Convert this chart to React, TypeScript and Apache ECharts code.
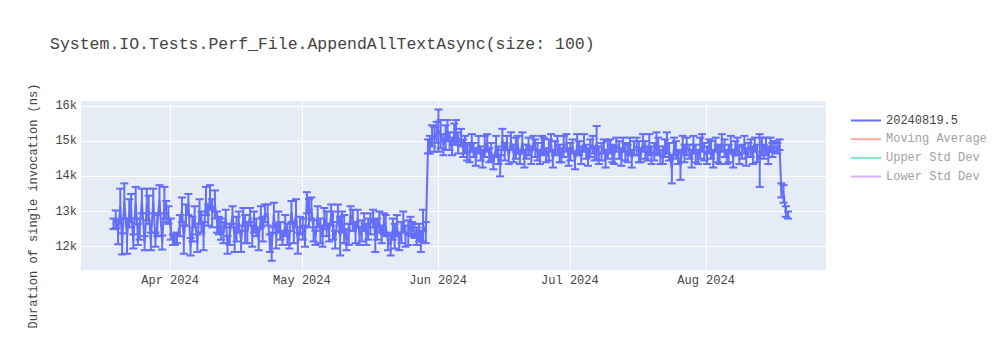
import React, { useEffect, useRef } from "react";
import * as echarts from "echarts";

const titleText = "System.IO.Tests.Perf_File.AppendAllTextAsync(size: 100)";
const yAxisTitle = "Duration of single invocation (ns)";
const legendNames = ["20240819.5", "Moving Average", "Upper Std Dev", "Lower Std Dev"];
const legendColors = ["#636efa", "#f7aa9d", "#80e6cb", "#d5b1fd"];
const legendTextColors = ["#444444", "#a2a2a2", "#a2a2a2", "#a2a2a2"];
const monthNames = ["Jan", "Feb", "Mar", "Apr", "May", "Jun", "Jul", "Aug", "Sep", "Oct", "Nov", "Dec"];
const xRange = ["2024-03-11 12", "2024-08-28 07"];
const yRange = [11338, 16170];

const dates = [
  "2024-03-19 03","2024-03-19 15","2024-03-20 04","2024-03-20 16","2024-03-21 02","2024-03-21 14","2024-03-22 05","2024-03-22 17",
  "2024-03-23 03","2024-03-23 15","2024-03-24 04","2024-03-24 16","2024-03-25 02","2024-03-25 14","2024-03-26 05","2024-03-26 17",
  "2024-03-27 03","2024-03-27 15","2024-03-28 04","2024-03-28 16","2024-03-29 02","2024-03-29 14","2024-03-30 05","2024-03-30 17",
  "2024-03-31 03","2024-03-31 15","2024-04-01 04","2024-04-01 16","2024-04-02 02","2024-04-02 14","2024-04-03 05","2024-04-03 17",
  "2024-04-04 03","2024-04-04 15","2024-04-05 04","2024-04-05 16","2024-04-06 02","2024-04-06 14","2024-04-07 05","2024-04-07 17",
  "2024-04-08 03","2024-04-08 15","2024-04-09 04","2024-04-09 16","2024-04-10 02","2024-04-10 14","2024-04-11 05","2024-04-11 17",
  "2024-04-12 03","2024-04-12 15","2024-04-13 04","2024-04-13 16","2024-04-14 02","2024-04-14 14","2024-04-15 05","2024-04-15 17",
  "2024-04-16 03","2024-04-16 15","2024-04-17 04","2024-04-17 16","2024-04-18 02","2024-04-18 14","2024-04-19 05","2024-04-19 17",
  "2024-04-20 03","2024-04-20 15","2024-04-21 04","2024-04-21 16","2024-04-22 02","2024-04-22 14","2024-04-23 05","2024-04-23 17",
  "2024-04-24 03","2024-04-24 15","2024-04-25 04","2024-04-25 16","2024-04-26 02","2024-04-26 14","2024-04-27 05","2024-04-27 17",
  "2024-04-28 03","2024-04-28 15","2024-04-29 04","2024-04-29 16","2024-04-30 02","2024-04-30 14","2024-05-01 05","2024-05-01 17",
  "2024-05-02 03","2024-05-02 15","2024-05-03 04","2024-05-03 16","2024-05-04 02","2024-05-04 14","2024-05-05 05","2024-05-05 17",
  "2024-05-06 03","2024-05-06 15","2024-05-07 04","2024-05-07 16","2024-05-08 02","2024-05-08 14","2024-05-09 05","2024-05-09 17",
  "2024-05-10 03","2024-05-10 15","2024-05-11 04","2024-05-11 16","2024-05-12 02","2024-05-12 14","2024-05-13 05","2024-05-13 17",
  "2024-05-14 03","2024-05-14 15","2024-05-15 04","2024-05-15 16","2024-05-16 02","2024-05-16 14","2024-05-17 05","2024-05-17 17",
  "2024-05-18 03","2024-05-18 15","2024-05-19 04","2024-05-19 16","2024-05-20 02","2024-05-20 14","2024-05-21 05","2024-05-21 17",
  "2024-05-22 03","2024-05-22 15","2024-05-23 04","2024-05-23 16","2024-05-24 02","2024-05-24 14","2024-05-25 05","2024-05-25 17",
  "2024-05-26 03","2024-05-26 15","2024-05-27 04","2024-05-27 16","2024-05-28 02","2024-05-28 14","2024-05-29 05","2024-05-29 17",
  "2024-05-30 03","2024-05-30 15","2024-05-31 04","2024-05-31 16","2024-06-01 02","2024-06-01 14","2024-06-02 05","2024-06-02 17",
  "2024-06-03 03","2024-06-03 15","2024-06-04 04","2024-06-04 16","2024-06-05 02","2024-06-05 14","2024-06-06 05","2024-06-06 17",
  "2024-06-07 03","2024-06-07 15","2024-06-08 04","2024-06-08 16","2024-06-09 02","2024-06-09 14","2024-06-10 05","2024-06-10 17",
  "2024-06-11 03","2024-06-11 15","2024-06-12 04","2024-06-12 16","2024-06-13 02","2024-06-13 14","2024-06-14 05","2024-06-14 17",
  "2024-06-15 03","2024-06-15 15","2024-06-16 04","2024-06-16 16","2024-06-17 02","2024-06-17 14","2024-06-18 05","2024-06-18 17",
  "2024-06-19 03","2024-06-19 15","2024-06-20 04","2024-06-20 16","2024-06-21 02","2024-06-21 14","2024-06-22 05","2024-06-22 17",
  "2024-06-23 03","2024-06-23 15","2024-06-24 04","2024-06-24 16","2024-06-25 02","2024-06-25 14","2024-06-26 05","2024-06-26 17",
  "2024-06-27 03","2024-06-27 15","2024-06-28 04","2024-06-28 16","2024-06-29 02","2024-06-29 14","2024-06-30 05","2024-06-30 17",
  "2024-07-01 03","2024-07-01 15","2024-07-02 04","2024-07-02 16","2024-07-03 02","2024-07-03 14","2024-07-04 05","2024-07-04 17",
  "2024-07-05 03","2024-07-05 15","2024-07-06 04","2024-07-06 16","2024-07-07 02","2024-07-07 14","2024-07-08 05","2024-07-08 17",
  "2024-07-09 03","2024-07-09 15","2024-07-10 04","2024-07-10 16","2024-07-11 02","2024-07-11 14","2024-07-12 05","2024-07-12 17",
  "2024-07-13 03","2024-07-13 15","2024-07-14 04","2024-07-14 16","2024-07-15 02","2024-07-15 14","2024-07-16 05","2024-07-16 17",
  "2024-07-17 03","2024-07-17 15","2024-07-18 04","2024-07-18 16","2024-07-19 02","2024-07-19 14","2024-07-20 05","2024-07-20 17",
  "2024-07-21 03","2024-07-21 15","2024-07-22 04","2024-07-22 16","2024-07-23 02","2024-07-23 14","2024-07-24 05","2024-07-24 17",
  "2024-07-25 03","2024-07-25 15","2024-07-26 04","2024-07-26 16","2024-07-27 02","2024-07-27 14","2024-07-28 05","2024-07-28 17",
  "2024-07-29 03","2024-07-29 15","2024-07-30 04","2024-07-30 16","2024-07-31 02","2024-07-31 14","2024-08-01 05","2024-08-01 17",
  "2024-08-02 03","2024-08-02 15","2024-08-03 04","2024-08-03 16","2024-08-04 02","2024-08-04 14","2024-08-05 05","2024-08-05 17",
  "2024-08-06 03","2024-08-06 15","2024-08-07 04","2024-08-07 16","2024-08-08 02","2024-08-08 14","2024-08-09 05","2024-08-09 17",
  "2024-08-10 03","2024-08-10 15","2024-08-11 04","2024-08-11 16","2024-08-12 02","2024-08-12 14","2024-08-13 05","2024-08-13 17",
  "2024-08-14 03","2024-08-14 15","2024-08-15 04","2024-08-15 16","2024-08-16 02","2024-08-16 14","2024-08-17 05","2024-08-17 17",
  "2024-08-18 03","2024-08-18 15","2024-08-19 04","2024-08-19 16",
];

const durations = [
  12650,12780,12420,13150,12080,13300,12300,12950, 13100,12150,13250,12350,12500,13300,12100,13200,
  13050,12150,13300,12200,12600,13350,12120,13250, 13000,12900,12500,12200,12200,12250,12600,13050,
  12200,12900,13200,12000,12500,12850,12100,13000, 12700,12300,13300,12900,13400,12950,13200,12700,
  12600,12500,12400,12800,12050,12350,12900,12200, 12500,12700,12150,12850,12500,12400,12900,12300,
  12700,12550,12200,12850,12500,12950,12900,12100, 12000,12900,12300,12700,12450,12250,12600,12350,
  12200,13000,12400,12950,12100,12600,12500,12300, 13250,12950,13100,12450,12250,12850,12450,12300,
  12800,12650,12400,12900,12600,12200,12950,12300, 12700,12500,12200,12350,12900,12750,12400,12800,
  12300,12450,12700,12350,12500,12650,12800,12300, 12500,12700,12350,12650,12600,12150,12050,12500,
  12300,12600,12150,12400,12700,12300,12400,12600, 12500,12450,12300,12400,12150,12600,12400,14850,
  14900,15150,15050,15250,15300,15200,14900,15100, 15300,15000,14850,15200,15250,14950,15100,14800,
  14900,14700,14650,14950,14750,14550,14900,14650, 14500,14850,14950,14600,14700,14400,14850,14600,
  14300,15050,14700,14950,14550,15000,14650,14800, 14900,14550,14950,14500,14700,14850,14600,14950,
  14800,14700,14550,14900,14850,14600,14750,14950, 14500,14800,14900,14650,14600,14850,14950,14550,
  14700,14850,14450,14900,14800,14600,14950,14700, 14550,14800,14900,14650,14950,14600,14700,14850,
  14500,14750,14850,14650,14600,14900,14750,14550, 14900,14700,14650,14850,14500,14800,14850,14700,
  14600,14950,14750,14650,14900,14600,14700,14950, 14850,14550,14600,14800,14950,14700,14200,14850,
  14750,14550,14300,14900,14650,14850,14700,14500, 14900,14650,14550,14800,14950,14700,14600,14850,
  14750,14500,14900,14650,14600,14950,14800,14550, 14650,14900,14500,14800,14850,14600,14700,14900,
  14550,14750,14800,14600,14900,14650,14450,14850, 14700,14850,14600,14900,14750,14850,14800,14900,
  13600,13500,13000,12900,
];

const stdDevs = [
  150,250,350,500,300,500,500,400, 400,200,450,300,300,350,200,450,
  400,250,350,200,300,400,200,450, 300,250,300,150,150,150,300,350,
  400,300,300,250,350,300,250,350, 300,400,400,300,350,400,400,300,
  250,300,300,250,250,300,250,350, 350,300,300,250,400,300,200,300,
  300,250,300,300,350,250,300,250, 400,350,350,300,250,200,300,300,
  250,300,300,400,300,250,300,300, 300,400,300,300,200,300,350,300,
  300,350,250,300,400,250,250,550, 300,400,300,300,250,300,300,250,
  250,300,250,300,300,300,250,450, 300,300,250,300,300,250,300,300,
  350,300,250,300,300,300,350,250, 200,200,250,250,300,450,300,200,
  250,300,350,300,600,400,300,350, 300,250,250,300,350,300,250,250,
  250,250,250,250,200,250,250,200, 250,300,250,200,250,200,300,250,
  300,300,250,200,200,250,250,300, 250,200,300,250,200,250,250,200,
  250,250,200,250,250,200,300,250, 250,200,250,250,200,300,250,250,
  250,200,250,300,200,250,250,200, 250,250,250,200,480,250,250,200,
  250,250,200,250,250,200,250,250, 200,250,250,250,250,200,250,300,
  200,250,250,200,300,250,250,300, 250,200,250,250,300,250,400,250,
  250,200,400,250,250,250,200,250, 250,250,200,300,250,250,250,200,
  250,250,200,250,250,250,250,200, 250,250,250,200,250,250,200,250,
  250,200,250,250,200,250,750,250, 200,250,250,200,200,150,150,150,
  200,250,150,100,
];

function parseTime(s: string): number {
  const [d, h] = s.split(" ");
  const [y, m, day] = d.split("-").map(Number);
  return new Date(y, m - 1, day, Number(h)).getTime();
}

const FONT = "'Liberation Mono', 'Courier New', monospace";

export default function App() {
  const ref = useRef<HTMLDivElement>(null);

  useEffect(() => {
    if (!ref.current) return;
    const chart = echarts.init(ref.current, null, { renderer: "svg" });
    const times = dates.map(parseTime);
    const lineData = times.map((t, i) => [t, durations[i]]);
    const errData = times.map((t, i) => [t, durations[i] - stdDevs[i], durations[i] + stdDevs[i]]);

    chart.setOption({
      animation: false,
      backgroundColor: "#ffffff",
      textStyle: { fontFamily: FONT },
      title: {
        text: titleText,
        left: 50,
        top: 36,
        padding: 0,
        textStyle: { fontFamily: FONT, fontSize: 16.5, fontWeight: "normal", color: "#444444" },
      },
      grid: {
        left: 80,
        right: 174,
        top: 100,
        bottom: 80,
        show: true,
        backgroundColor: "#e5ecf6",
        borderWidth: 0,
        containLabel: false,
        outerBoundsMode: "none",
      },
      legend: {
        orient: "vertical",
        left: 846,
        top: 108.5,
        itemWidth: 30,
        itemHeight: 2,
        itemGap: 4.7,
        icon: "rect",
        selectedMode: false,
        textStyle: { fontFamily: FONT, fontSize: 12, color: "#444444", lineHeight: 14 },
        data: legendNames.map((n, i) => ({
          name: n,
          itemStyle: { color: legendColors[i] },
          lineStyle: { color: legendColors[i] },
          textStyle: { color: legendTextColors[i] },
        })),
      },
      xAxis: {
        type: "time",
        min: parseTime(xRange[0]),
        max: parseTime(xRange[1]),
        splitNumber: 6,
        axisLine: { show: false },
        axisTick: { show: false },
        splitLine: { show: true, lineStyle: { color: "#ffffff", width: 1 } },
        axisLabel: {
          color: "#444444",
          fontFamily: FONT,
          fontSize: 12,
          margin: 5,
          formatter: (v: number) => {
            const d = new Date(v);
            if (d.getDate() !== 1 || d.getHours() !== 0) return "";
            return monthNames[d.getMonth()] + " " + d.getFullYear();
          },
        },
      },
      yAxis: {
        type: "value",
        min: yRange[0],
        max: yRange[1],
        splitNumber: 5,
        axisLine: { show: false },
        axisTick: { show: false },
        splitLine: { show: true, lineStyle: { color: "#ffffff", width: 1 } },
        axisLabel: {
          color: "#444444",
          fontFamily: FONT,
          fontSize: 12,
          margin: 3,
          formatter: (v: number) => (Math.abs(v % 1000) < 1e-6 ? v / 1000 + "k" : ""),
        },
      },
      graphic: [
        {
          type: "text",
          x: 34,
          y: 206,
          rotation: Math.PI / 2,
          style: {
            text: yAxisTitle,
            font: "12px " + FONT,
            fill: "#444444",
            align: "center",
            verticalAlign: "middle",
          },
        },
      ],
      series: [
        {
          name: "errorBars",
          type: "custom",
          data: errData,
          encode: { x: 0, y: [1, 2] },
          z: 2,
          renderItem: (params: any, api: any) => {
            const x = api.value(0);
            const lo = api.coord([x, api.value(1)]);
            const hi = api.coord([x, api.value(2)]);
            const w = 4;
            const style = { stroke: "#636efa", lineWidth: 2, fill: "none" };
            return {
              type: "group",
              children: [
                { type: "line", shape: { x1: lo[0], y1: lo[1], x2: hi[0], y2: hi[1] }, style },
                { type: "line", shape: { x1: lo[0] - w, y1: lo[1], x2: lo[0] + w, y2: lo[1] }, style },
                { type: "line", shape: { x1: hi[0] - w, y1: hi[1], x2: hi[0] + w, y2: hi[1] }, style },
              ],
            };
          },
        },
        {
          name: legendNames[0],
          type: "line",
          data: lineData,
          showSymbol: false,
          z: 3,
          itemStyle: { color: legendColors[0] },
          lineStyle: { color: legendColors[0], width: 2 },
        },
        ...legendNames.slice(1).map((n, i) => ({
          name: n,
          type: "line",
          data: [],
          showSymbol: false,
          itemStyle: { color: legendColors[i + 1] },
          lineStyle: { color: legendColors[i + 1], width: 2 },
        })),
      ],
    });

    return () => chart.dispose();
  }, []);

  return (
    <div
      ref={ref}
      style={{ position: "fixed", left: 0, top: 0, width: 1000, height: 350, background: "#fff" }}
    />
  );
}
